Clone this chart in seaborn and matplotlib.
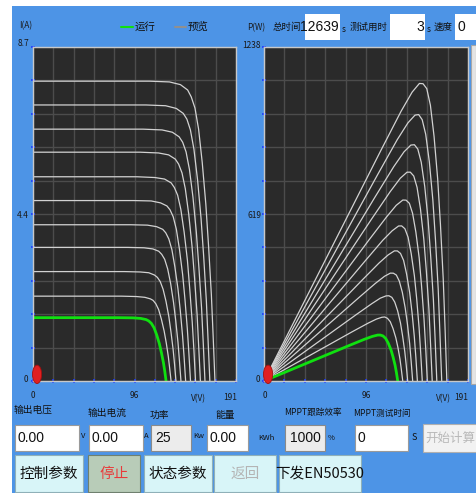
import numpy as np
import pandas as pd
import matplotlib
matplotlib.use('Agg')
import matplotlib.pyplot as plt
import seaborn as sns
from matplotlib.patches import Rectangle, Ellipse

# I-V curves: one list of volts and one of amps per curve
# (curve 0 is the green "running" curve, the rest are the grey preview curves)
curve_volts = [
    [0, 80.1, 93.9, 101.4, 106.4, 108.9, 111.4, 113.9, 116.4, 118.9, 120.8, 122.7, 124.0, 125.2],
    [0, 83.1, 97.4, 105.2, 110.4, 113.0, 115.6, 118.2, 120.8, 123.4, 125.4, 127.3, 128.6, 129.9],
    [0, 86.1, 100.9, 108.9, 114.3, 117.0, 119.7, 122.4, 125.1, 127.8, 129.8, 131.8, 133.2, 134.5],
    [0, 89.1, 104.4, 112.8, 118.3, 121.1, 123.9, 126.7, 129.5, 132.2, 134.3, 136.4, 137.8, 139.2],
    [0, 91.9, 107.7, 116.3, 122.1, 124.9, 127.8, 130.7, 133.5, 136.4, 138.6, 140.7, 142.2, 143.6],
    [0, 94.8, 111.2, 120.0, 126.0, 128.9, 131.9, 134.9, 137.8, 140.8, 143.0, 145.2, 146.7, 148.2],
    [0, 97.9, 114.7, 123.8, 130.0, 133.0, 136.1, 139.1, 142.2, 145.3, 147.5, 149.8, 151.4, 152.9],
    [0, 100.8, 118.1, 127.6, 133.9, 137.0, 140.2, 143.3, 146.5, 149.6, 152.0, 154.4, 155.9, 157.5],
    [0, 103.6, 121.4, 131.1, 137.5, 140.8, 144.0, 147.2, 150.5, 153.7, 156.1, 158.6, 160.2, 161.8],
    [0, 106.5, 124.8, 134.8, 141.4, 144.8, 148.1, 151.4, 154.8, 158.1, 160.6, 163.1, 164.7, 166.4],
    [0, 109.6, 128.4, 138.7, 145.5, 148.9, 152.4, 155.8, 159.2, 162.6, 165.2, 167.8, 169.5, 171.2],
]
curve_amps = [
    [1.65, 1.65, 1.645, 1.63, 1.60, 1.564, 1.50, 1.386, 1.20, 0.97, 0.74, 0.48, 0.25, 0],
    [2.21, 2.21, 2.20, 2.18, 2.14, 2.10, 2.01, 1.86, 1.61, 1.30, 0.99, 0.64, 0.33, 0],
    [2.85, 2.85, 2.84, 2.82, 2.76, 2.70, 2.59, 2.39, 2.08, 1.68, 1.28, 0.83, 0.43, 0],
    [3.48, 3.48, 3.47, 3.44, 3.38, 3.30, 3.17, 2.92, 2.54, 2.05, 1.57, 1.01, 0.52, 0],
    [4.07, 4.07, 4.06, 4.02, 3.95, 3.86, 3.70, 3.42, 2.97, 2.40, 1.83, 1.18, 0.61, 0],
    [4.70, 4.70, 4.69, 4.64, 4.56, 4.46, 4.28, 3.95, 3.43, 2.77, 2.12, 1.36, 0.71, 0],
    [5.32, 5.32, 5.30, 5.26, 5.16, 5.04, 4.84, 4.47, 3.88, 3.14, 2.39, 1.54, 0.80, 0],
    [5.96, 5.96, 5.94, 5.89, 5.78, 5.65, 5.42, 5.01, 4.35, 3.52, 2.68, 1.73, 0.89, 0],
    [6.56, 6.56, 6.54, 6.48, 6.36, 6.22, 5.97, 5.51, 4.79, 3.87, 2.95, 1.90, 0.98, 0],
    [7.19, 7.19, 7.17, 7.10, 6.97, 6.82, 6.54, 6.04, 5.25, 4.24, 3.24, 2.09, 1.08, 0],
    [7.81, 7.81, 7.79, 7.72, 7.58, 7.40, 7.11, 6.56, 5.70, 4.61, 3.51, 2.26, 1.17, 0],
]
running_curve = 0

i_max = 8.7
p_max = 1238
v_max = 191

# field values shown under the charts
total_time = "12639"
test_time = "3"
speed = "0"
out_voltage = "0.00"
out_current = "0.00"
power = "25"
energy = "0.00"
mppt_eff = "1000"
mppt_time = "0"

rows = []
for k, (vs, am) in enumerate(zip(curve_volts, curve_amps)):
    for v, a in zip(vs, am):
        rows.append({"curve": k, "V": v, "I": a, "P": v * a})
df = pd.DataFrame(rows)
run_df = df[df["curve"] == running_curve]
prev_df = df[df["curve"] != running_curve]

W, H = 476, 493
BLUE = "#4d94e6"
CJK = ["Noto Sans CJK SC", "DejaVu Sans"]

sns.set_style("white")
plt.rcParams["font.family"] = CJK

fig = plt.figure(figsize=(W / 100, H / 100), dpi=100)
fig.patch.set_facecolor("white")


def rect(x0, y0, x1, y1, fc, ec="none", lw=0.8, z=-5):
    fig.patches.append(Rectangle((x0 / W, 1 - y1 / H), (x1 - x0) / W, (y1 - y0) / H,
                                 transform=fig.transFigure, facecolor=fc,
                                 edgecolor=ec, linewidth=lw, zorder=z))


def txt(x, y, s, size=7, color="#111111", ha="left", va="center", **kw):
    fig.text(x / W, 1 - y / H, s, fontsize=size, color=color, ha=ha, va=va,
             zorder=10, **kw)


def add_plot(x0, y0, x1, y1):
    ax = fig.add_axes([x0 / W, 1 - y1 / H, (x1 - x0) / W, (y1 - y0) / H])
    ax.set_zorder(5)
    ax.set_facecolor("#2a2a2a")
    for s in ax.spines.values():
        s.set_color("#c8c8c8")
        s.set_linewidth(1.0)
    return ax


# blue panel
rect(12, 6, W, H, BLUE, z=-10)
rect(471, 45, W, 384, "#e4e4e4", "#a8a8a8")

# ---- left chart: I-V ----
ax1 = add_plot(33, 47, 236, 381)
sns.lineplot(data=prev_df, x="V", y="I", units="curve", estimator=None, sort=False,
             color="#d2d2d2", lw=0.9, ax=ax1)
sns.lineplot(data=run_df, x="V", y="I", estimator=None, sort=False,
             color="#10e010", lw=2.0, ax=ax1)
ax1.set_xlim(0, v_max)
ax1.set_ylim(0, i_max)

# ---- right chart: P-V ----
ax2 = add_plot(264, 47, 468, 381)
sns.lineplot(data=prev_df, x="V", y="P", units="curve", estimator=None, sort=False,
             color="#d2d2d2", lw=0.9, ax=ax2)
sns.lineplot(data=run_df, x="V", y="P", estimator=None, sort=False,
             color="#10e010", lw=2.0, ax=ax2)
ax2.set_xlim(0, v_max)
ax2.set_ylim(0, p_max)

for ax, top in ((ax1, i_max), (ax2, p_max)):
    ax.set_xticks(np.linspace(0, v_max, 11))
    ax.set_yticks(np.linspace(0, top, 11))
    ax.set_xticklabels([])
    ax.set_yticklabels([])
    ax.grid(True, color="#4c4c4c", lw=1.0)
    ax.set_axisbelow(True)
    ax.tick_params(axis="both", direction="inout", length=3, width=1.2,
                   color="#1e3cff", bottom=True, left=True)
    ax.set_xlabel("")
    ax.set_ylabel("")
    ax.add_patch(Ellipse((0.02, 0.02), 0.045, 0.055, transform=ax.transAxes,
                         facecolor="#e02020", edgecolor="#a01010", lw=0.6,
                         clip_on=False, zorder=5))

# axis texts
small = dict(size=6, color="#1a1a1a")
txt(19, 26, "I(A)", **small)
txt(29, 44, "8.7", ha="right", **small)
txt(29, 216, "4.4", ha="right", **small)
txt(28, 379, "0", ha="right", **small)
txt(33, 395, "0", ha="center", **small)
txt(134, 395, "96", ha="center", **small)
txt(230, 397, "191", ha="center", **small)
txt(198, 399, "V(V)", ha="center", **small)

txt(247, 28, "P(W)", **small)
txt(261, 46, "1238", ha="right", **small)
txt(261, 216, "619", ha="right", **small)
txt(260, 379, "0", ha="right", **small)
txt(265, 395, "0", ha="center", **small)
txt(366, 395, "96", ha="center", **small)
txt(461, 397, "191", ha="center", **small)
txt(443, 399, "V(V)", ha="center", **small)

# legend
fig.lines.append(plt.Line2D([121 / W, 133 / W], [1 - 27 / H] * 2, color="#10e010",
                            lw=1.5, transform=fig.transFigure))
txt(135, 27, "运行", size=7.5)
fig.lines.append(plt.Line2D([175 / W, 186 / W], [1 - 27 / H] * 2, color="#909090",
                            lw=1.5, transform=fig.transFigure))
txt(188, 27, "预览", size=7.5)

# top-right fields
txt(273, 27, "总时间", size=6.8)
rect(305, 14, 340, 40, "white")
txt(339, 27, total_time, size=10, ha="right", family="Liberation Sans")
txt(342, 29, "s", size=6)
txt(350, 27, "测试用时", size=6.8)
rect(390, 14, 425, 40, "white")
txt(424, 27, test_time, size=10, ha="right", family="Liberation Sans")
txt(427, 29, "s", size=6)
txt(434, 27, "速度", size=6.8)
rect(455, 14, W, 40, "white")
txt(457, 27, speed, size=10, family="Liberation Sans")

# field labels
lab = dict(size=7, color="#111111")
txt(14, 410, "输出电压", **lab)
txt(88, 413, "输出电流", **lab)
txt(150, 415, "功率", **lab)
txt(215, 415, "能量", **lab)
txt(284, 413, "MPPT跟踪效率", size=6.2)
txt(353, 413, "MPPT测试时间", size=6.2)

num = dict(size=10, family="Liberation Sans", color="#111111")
rect(15, 425, 79, 451, "white", "#9a9a9a")
txt(18, 438, out_voltage, **num)
txt(81, 436, "V", size=5.5)
rect(89, 425, 143, 451, "white", "#9a9a9a")
txt(92, 438, out_current, **num)
txt(144, 436, "A", size=5.5)
rect(151, 425, 191, 451, "#ececec", "#8a8a8a")
txt(155, 438, power, **num)
txt(193, 436, "Kw", size=5.5)
rect(207, 425, 248, 451, "white", "#9a9a9a")
txt(209, 438, energy, **num)
txt(258, 438, "KWh", size=5.5)
rect(285, 425, 325, 451, "#ececec", "#8a8a8a")
txt(305, 438, mppt_eff, ha="center", **num)
txt(328, 438, "%", size=5.5)
rect(355, 425, 408, 451, "white", "#9a9a9a")
txt(358, 438, mppt_time, **num)
txt(412, 438, "S", size=6.5)
rect(423, 424, W + 2, 452, "#f2f2f2", "#b0b0b0")
txt(425, 438, "开始计算", size=9, color="#b8b8b8")

# buttons
btn = dict(size=10.5, ha="center")
rect(15, 455, 83, 492, "#d8f5f8", "#8fb0b8")
txt(49, 474, "控制参数", **btn)
rect(88, 455, 140, 492, "#b8ccb8", "#6f806f")
txt(114, 474, "停止", color="#e83a3a", **btn)
rect(144, 455, 212, 492, "#d8f5f8", "#8fb0b8")
txt(178, 474, "状态参数", **btn)
rect(214, 455, 276, 492, "#d8f5f8", "#8fb0b8")
txt(245, 474, "返回", color="#b4b4b4", **btn)
rect(279, 455, 361, 492, "#d8f5f8", "#8fb0b8")
txt(320, 474, "下发EN50530", **btn)

fig.savefig("out.png", dpi=100)
